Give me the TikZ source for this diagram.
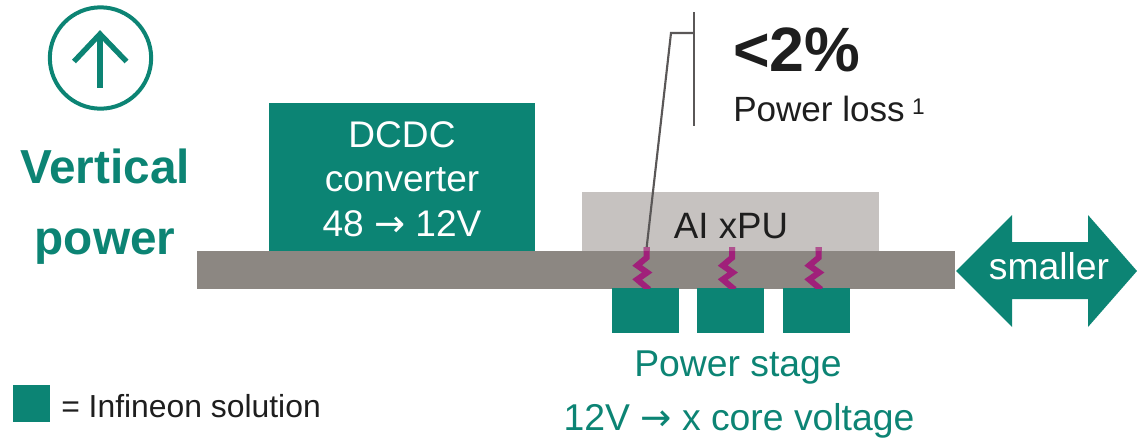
\documentclass[tikz,border=0pt]{standalone}
\usepackage{fontspec}
\setmainfont{Liberation Sans}
\newfontfamily\arrowfont{DejaVu Sans}
\definecolor{teal1}{HTML}{0C8474}
\definecolor{board}{HTML}{8C8782}
\definecolor{xpu}{HTML}{C6C2C0}
\definecolor{mag}{HTML}{A0207A}
\definecolor{magtop}{HTML}{B0528F}
\definecolor{ink}{HTML}{1E1E1E}
\definecolor{lead}{HTML}{5A5757}
\newcommand{\fnt}[1]{\fontsize{#1}{#1}\selectfont}
\newcommand{\arr}{{\arrowfont →}}
\tikzset{
  px/.style={x=0.75pt,y=-0.75pt},
  zig/.style={draw=mag,line width=4.5pt,line join=miter},
  leader/.style={draw=lead,line width=1.6pt},
  tealtxt/.style={inner sep=0pt,text=teal1,anchor=base,align=center},
  whitetxt/.style={tealtxt,text=white},
  inktxt/.style={inner sep=0pt,text=ink,anchor=base west},
  icon/.style={draw=teal1,line width=4pt}
}
\begin{document}
\begin{tikzpicture}[px]
\useasboundingbox (0,0) rectangle (1137,437);
% boards
\path[fill=xpu] (582,192) rectangle (879,251);
\path[fill=teal1] (269,103) rectangle (535,251);
\path[fill=board] (197,251) rectangle (955,289);
\path[fill=teal1] (612,288) rectangle (679,333);
\path[fill=teal1] (697,288) rectangle (764,333);
\path[fill=teal1] (783,288) rectangle (850,333);
\path[fill=teal1] (13,385) rectangle (50,422);
% zigzags
\foreach \n/\x in {a/646.7,b/732.2,c/818.7}{
  \coordinate (z\n) at (\x,247);
  \begin{scope}
    \clip (\x-20,247) rectangle (\x+20,288);
    \draw[zig] (z\n) -- ++(0,10.5) -- ++(-9.5,8) -- ++(10,7) -- ++(-10,7) -- ++(10,8.5) -- ++(2,1.5);
  \end{scope}
  \path[fill=magtop] (\x-3,247) rectangle (\x+3,251);
}
% leader
\coordinate (barT) at (693.7,12);
\coordinate (barB) at (693.7,126);
\coordinate (barM) at (693.7,33);
\coordinate (elbow) at (671,33);
\draw[leader] (barT) -- (barB);
\draw[leader] (barM) -- (elbow) -- (za);
% arrow icon
\node[circle,draw=teal1,line width=3pt,minimum size=76pt,inner sep=0pt] (ring) at (100.5,58) {};
\coordinate (tip) at (100,34);
\coordinate (stem) at (100,88);
\draw[icon] (tip) -- (stem);
\draw[icon,line join=miter] (74,61.5) -- (tip) -- (126.5,61.5);
% double arrow
\path[fill=teal1] (956,271) -- (1012,215) -- (1012,242) -- (1088,242) -- (1088,215) -- (1137,271) -- (1088,327) -- (1088,299) -- (1012,299) -- (1012,327) -- cycle;
% text
\node[tealtxt,font=\bfseries\fnt{35.8}] (v1) at (105,183) {Vertical};
\node[tealtxt,font=\bfseries\fnt{35.8}] (v2) at (105,254) {power};
\node[whitetxt,font=\fnt{27.8}] (d1) at (402,147) {DCDC};
\node[whitetxt,font=\fnt{27.8}] (d2) at (402,191) {converter};
\node[whitetxt,font=\fnt{27.8}] (d3) at (402,236) {48 \arr{} 12V};
\node[inner sep=0pt,text=ink,anchor=base,font=\fnt{27.5}] (ai) at (731,238) {AI xPU};
\node[inktxt,font=\bfseries\fnt{47}] (pct) at (733,71) {<2\%};
\node[inktxt,font=\fnt{26.3}] (loss) at (733,121.5) {Power loss\kern5.5pt\raisebox{5.5pt}{\fnt{17}1}};
\node[whitetxt,font=\fnt{28}] (sm) at (1049,279) {smaller};
\node[tealtxt,font=\fnt{28}] (ps) at (738,376) {Power stage};
\node[tealtxt,font=\fnt{28}] (cv) at (739,430) {12V \arr{} x core voltage};
\node[inktxt,font=\fnt{23.9}] (leg) at (61,417) {= Infineon solution};
\end{tikzpicture}
\end{document}
